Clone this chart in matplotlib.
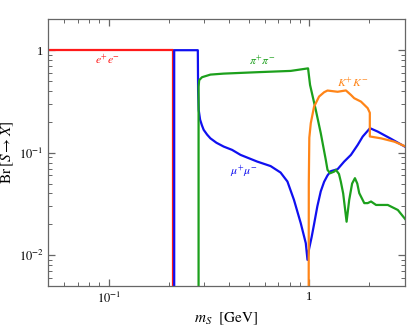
import numpy as np
import matplotlib
matplotlib.use("Agg")
import matplotlib.pyplot as plt
from matplotlib.ticker import FixedLocator, FixedFormatter, LogLocator, NullFormatter

plt.rcParams['font.family'] = 'serif'
plt.rcParams['font.serif'] = ['Liberation Serif', 'DejaVu Serif']
plt.rcParams['mathtext.fontset'] = 'stix'

# branching ratios (m_S in GeV)
m_ee = [0.05, 0.2105, 0.2105]
br_ee = [1.0, 1.0, 0.001]

m_mumu = [0.2124, 0.2124, 0.2786, 0.2795, 0.2815, 0.286, 0.292, 0.298, 0.31, 0.322,
          0.345, 0.375, 0.413, 0.455, 0.551, 0.643, 0.721, 0.780, 0.841, 0.909,
          0.963, 0.982, 1.0, 1.03, 1.059, 1.10, 1.144, 1.189, 1.236, 1.284, 1.388,
          1.497, 1.618, 1.748, 1.852, 2.014, 2.201, 2.567, 3.04]
br_mumu = [0.001, 1.0, 1.0, 0.40, 0.26, 0.21, 0.185, 0.167, 0.15, 0.138,
           0.125, 0.1147, 0.1065, 0.0952, 0.0819, 0.074, 0.064, 0.0523, 0.0346, 0.0205,
           0.0131, 0.0090, 0.0115, 0.0150, 0.020, 0.030, 0.042, 0.052, 0.060, 0.066, 0.069,
           0.0819, 0.0952, 0.119, 0.1436, 0.1734, 0.1606, 0.1364, 0.1132]

m_pipi = [0.281, 0.281, 0.283, 0.2923, 0.322, 0.375, 0.551, 0.810, 0.9886, 1.0116,
          1.080, 1.144, 1.212, 1.236, 1.274, 1.335, 1.361, 1.41, 1.441, 1.48,
          1.539, 1.586, 1.64, 1.694, 1.74, 1.78, 1.886, 1.961, 2.038, 2.159,
          2.471, 2.773, 3.04]
br_pipi = [0.001, 0.44, 0.51, 0.545, 0.578, 0.591, 0.61, 0.628, 0.665, 0.458,
           0.262, 0.155, 0.085, 0.068, 0.063, 0.0654, 0.068, 0.062, 0.052, 0.04,
           0.0212, 0.0346, 0.05, 0.0564, 0.05, 0.0403, 0.0322, 0.0322, 0.0334, 0.0309,
           0.0309, 0.0276, 0.0221]

m_kk = [0.995, 0.997, 1.003, 1.02, 1.059, 1.122, 1.189, 1.236, 1.388, 1.527,
        1.618, 1.68, 1.816, 1.961, 2.01, 2.01, 2.287, 2.667, 3.04]
br_kk = [0.001, 0.05, 0.14, 0.194, 0.281, 0.353, 0.389, 0.404, 0.393, 0.405,
         0.366, 0.34, 0.315, 0.272, 0.245, 0.144, 0.138, 0.128, 0.1147]

fig = plt.figure(figsize=(4.07, 3.28), dpi=100)
ax = fig.add_axes([0.1187, 0.128, 0.8756, 0.813])

lw = 1.6
ax.plot(m_ee, br_ee, color='#ff1a1a', lw=lw)
ax.plot(m_mumu, br_mumu, color='#1010f0', lw=lw)
ax.plot(m_pipi, br_pipi, color='#1ca01c', lw=lw)
ax.plot(m_kk, br_kk, color='#ff8518', lw=lw)

ax.set_xscale('log')
ax.set_yscale('log')
ax.set_xlim(0.05, 3.0)
ax.set_ylim(0.005, 2.0)

# channel labels
ax.text(0.0992, 0.80, r'$e^{+}e^{-}$', color='#ff1a1a', fontsize=8.5, ha='center', va='center')
ax.text(0.584, 0.774, r'$\pi^{+}\pi^{-}$', color='#1ca01c', fontsize=8.5, ha='center', va='center')
ax.text(1.65, 0.477, r'$K^{+}K^{-}$', color='#ff8518', fontsize=8.5, ha='center', va='center')
ax.text(0.472, 0.0654, r'$\mu^{+}\mu^{-}$', color='#1010f0', fontsize=8.5, ha='center', va='center')

ax.xaxis.set_major_locator(FixedLocator([0.1, 1.0]))
ax.xaxis.set_major_formatter(FixedFormatter([r'$10^{-1}$', '1']))
ax.yaxis.set_major_locator(FixedLocator([0.01, 0.1, 1.0]))
ax.yaxis.set_major_formatter(FixedFormatter([r'$10^{-2}$', r'$10^{-1}$', '1']))
ax.xaxis.set_minor_locator(LogLocator(base=10, subs=np.arange(2, 10), numticks=20))
ax.yaxis.set_minor_locator(LogLocator(base=10, subs=np.arange(2, 10), numticks=20))
ax.xaxis.set_minor_formatter(NullFormatter())
ax.yaxis.set_minor_formatter(NullFormatter())

gray = '#666666'
for s in ax.spines.values():
    s.set_color(gray)
    s.set_linewidth(0.9)
ax.tick_params(which='both', direction='in', top=True, right=True, colors=gray,
               labelcolor='black', labelsize=9)
ax.tick_params(which='major', length=5, width=0.9)
ax.tick_params(which='minor', length=3, width=0.7)

ax.set_xlabel(r'$m_S\ \ [\mathrm{GeV}]$', fontsize=11, labelpad=3)
ax.set_ylabel(r'$\mathrm{Br}\,[S\rightarrow X]$', fontsize=11, labelpad=2)

fig.savefig('out.png', dpi=100)
